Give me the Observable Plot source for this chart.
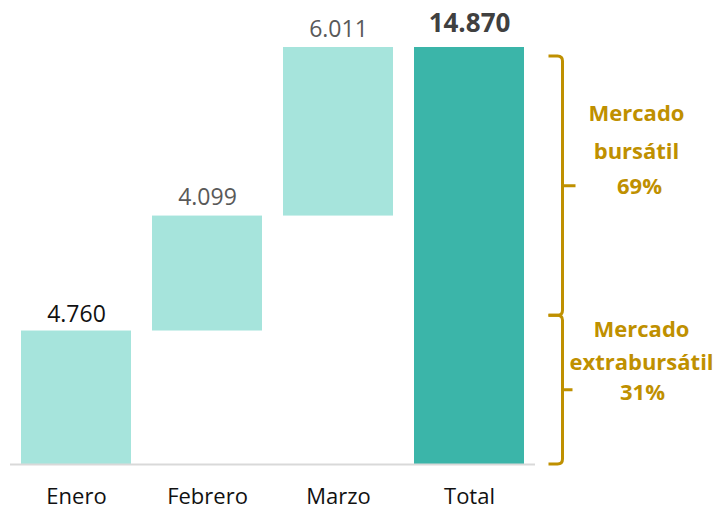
<!DOCTYPE html>
<html>
<head>
<meta charset="utf-8">
<script src="https://cdn.jsdelivr.net/npm/d3@7"></script>
<script src="https://cdn.jsdelivr.net/npm/@observablehq/plot@0.6"></script>
<style>
  html, body { margin: 0; padding: 0; background: #ffffff; }
  #chart { width: 717px; height: 510px; }
</style>
</head>
<body>
<div id="chart"></div>
<script>
// ---- data ----
const months = ["Enero", "Febrero", "Marzo"];
const monthValues = [4760, 4099, 6011];
const totalLabel = "Total";
const totalValue = 14870;

const braceNames = ["Mercado\nbursátil", "Mercado\nextrabursátil"];
const bracePct = ["69%", "31%"];
const braceFrom = [5300, 0];
const braceTo = [14550, 5300];

// ---- derived table ----
let run = 0;
const steps = months.map((m, i) => {
  const start = run;
  run += monthValues[i];
  return {cat: m, y1: start, y2: run, value: monthValues[i], kind: "step"};
});
const totalRow = {cat: totalLabel, y1: 0, y2: totalValue, value: totalValue, kind: "total"};
const rows = [...steps, totalRow];
const categories = [...months, totalLabel];

const fmt = d3.formatLocale({decimal: ",", thousands: ".", grouping: [3], currency: ["", ""]}).format(",d");

const gold = "#BF9000";
const braces = braceNames.map((n, i) => ({name: n, pct: bracePct[i], from: braceFrom[i], to: braceTo[i], mid: (braceFrom[i] + braceTo[i]) / 2}));

function braceMark(index, scales) {
  const x = scales.x, y = scales.y;
  const X = x(totalLabel) + x.bandwidth() + 38.5;
  const g = d3.create("svg:g");
  braces.forEach((b, i) => {
    const yt = y(b.to), yb = y(b.from), ym = y(b.mid);
    const r = 5, hook = 14, tip = i === 0 ? 13 : 10;
    const d = `M${X - hook},${yt} H${X - r} Q${X},${yt} ${X},${yt + r} V${yb - r} Q${X},${yb} ${X - r},${yb} H${X - hook} M${X},${ym} H${X + tip}`;
    g.append("path").attr("d", d).attr("fill", "none").attr("stroke", gold).attr("stroke-width", 3);
  });
  return g.node();
}

const chart = Plot.plot({
  width: 717,
  height: 510,
  marginLeft: 10,
  marginRight: 182,
  marginTop: 47,
  marginBottom: 46,
  style: {fontFamily: "'Open Sans', sans-serif", background: "#ffffff"},
  x: {domain: categories, paddingInner: 0.1624, paddingOuter: 0.08, align: 0.5, label: null},
  y: {domain: [0, totalValue], axis: null},
  marks: [
    Plot.barY(rows, {x: "cat", y1: "y1", y2: "y2", fill: d => d.kind === "total" ? "#3BB5A9" : "#A6E4DC"}),
    Plot.ruleY([0], {stroke: "#D9D9D9", strokeWidth: 2}),
    Plot.axisX({tickSize: 0, tickPadding: 24, fontSize: 22, fill: "#111111"}),
    Plot.text(steps.slice(0, 1), {x: "cat", y: "y2", text: d => fmt(d.value), lineAnchor: "bottom", dy: -9, fontSize: 23, fill: "#111111"}),
    Plot.text(steps.slice(1), {x: "cat", y: "y2", text: d => fmt(d.value), lineAnchor: "bottom", dy: -11, fontSize: 23, fill: "#595959"}),
    Plot.text([totalRow], {x: "cat", y: "y2", text: d => fmt(d.value), lineAnchor: "bottom", dy: -16, fontSize: 26, fontWeight: "bold", fill: "#404040"}),
    braceMark,
    Plot.text(braces.slice(0, 1), {x: () => totalLabel, y: "mid", text: "name", dx: 167, dy: -58, lineHeight: 1.72, fontSize: 22, fontWeight: "bold", fill: gold}),
    Plot.text(braces.slice(0, 1), {x: () => totalLabel, y: "mid", text: "pct", dx: 170, dy: 1, fontSize: 22, fontWeight: "bold", fill: gold}),
    Plot.text(braces.slice(1), {x: () => totalLabel, y: "mid", text: "name", dx: 172, dy: -47.5, lineHeight: 1.5, fontSize: 22, fontWeight: "bold", fill: gold}),
    Plot.text(braces.slice(1), {x: () => totalLabel, y: "mid", text: "pct", dx: 173, dy: 3, fontSize: 22, fontWeight: "bold", fill: gold})
  ]
});
document.getElementById("chart").appendChild(chart);
</script>
</body>
</html>
